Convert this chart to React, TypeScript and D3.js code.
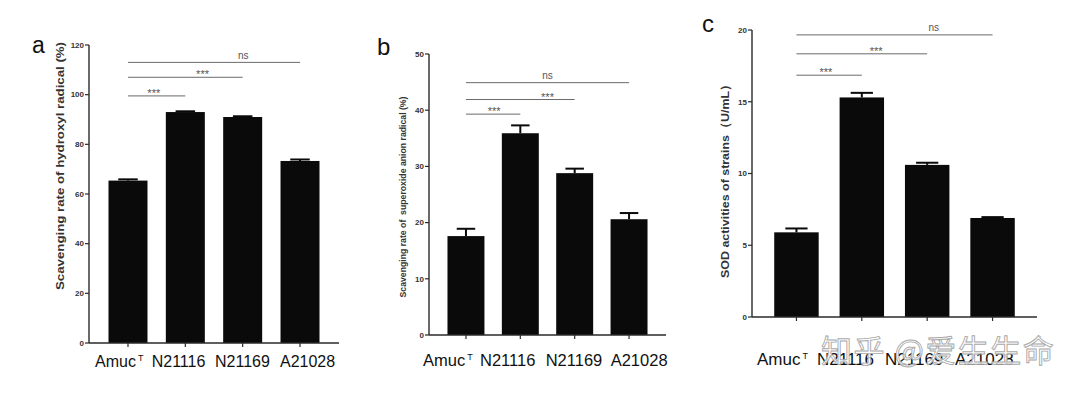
import React from "react";
import * as d3 from "d3";

const categories = ["Amuc", "N21116", "N21169", "A21028"];

const hydroxylMeans = [65.4, 93.0, 91.0, 73.3];
const hydroxylErrors = [0.5, 0.3, 0.3, 0.6];
const hydroxylTicks = [0, 20, 40, 60, 80, 100, 120];

const superoxideMeans = [17.6, 35.9, 28.8, 20.6];
const superoxideErrors = [1.3, 1.4, 0.8, 1.1];
const superoxideTicks = [0, 10, 20, 30, 40, 50];

const sodMeans = [5.9, 15.3, 10.6, 6.9];
const sodErrors = [0.27, 0.32, 0.15, 0.06];
const sodTicks = [0, 5, 10, 15, 20];

// significance comparisons: [from category index, to category index, y value, label]
const hydroxylSig: [number, number, number, string][] = [
  [0, 1, 99.5, "***"],
  [0, 2, 107, "***"],
  [0, 3, 113, "ns"],
];
const superoxideSig: [number, number, number, string][] = [
  [0, 1, 39.3, "***"],
  [0, 2, 41.9, "***"],
  [0, 3, 44.9, "ns"],
];
const sodSig: [number, number, number, string][] = [
  [0, 1, 16.85, "***"],
  [0, 2, 18.34, "***"],
  [0, 3, 19.66, "ns"],
];

const FONT = "'Liberation Sans', Arial, Helvetica, sans-serif";
const AXIS = "#2a2a2a";
const SIG = "#6a6a6a";

type PanelProps = {
  letter: string;
  letterPos: [number, number, number];
  x0: number;
  x1: number;
  yTop: number;
  yBottom: number;
  ticks: number[];
  means: number[];
  errors: number[];
  sig: [number, number, number, string][];
  sigTextFrac: number[];
  yLabel: string;
  yLabelX: number;
  yLabelY: number;
  yLabelSize: number;
  yLabelWeight: string | number;
  yLabelLength: number;
  xLabelStarts: number[];
  xLabelY: number;
  xLabelSize: number;
};

function Panel(p: PanelProps) {
  const x = d3
    .scaleBand<string>()
    .domain(categories)
    .range([p.x0, p.x1])
    .paddingInner(0.32)
    .paddingOuter(0.34);
  const y = d3
    .scaleLinear()
    .domain([0, p.ticks[p.ticks.length - 1]])
    .range([p.yBottom, p.yTop]);
  const bw = x.bandwidth();
  const cx = (c: string) => (x(c) as number) + bw / 2;

  return (
    <g>
      <text
        x={p.letterPos[0]}
        y={p.letterPos[1]}
        fontSize={p.letterPos[2]}
        fontFamily={FONT}
        fill="#111"
      >
        {p.letter}
      </text>
      {/* bars */}
      {categories.map((c, i) => (
        <rect
          key={c}
          x={x(c)}
          y={y(p.means[i])}
          width={bw}
          height={p.yBottom - y(p.means[i])}
          fill="#0a0a0a"
        />
      ))}
      {/* error bars */}
      {categories.map((c, i) => (
        <g key={"e" + c} stroke="#0a0a0a" strokeWidth={2}>
          <line x1={cx(c)} x2={cx(c)} y1={y(p.means[i])} y2={y(p.means[i] + p.errors[i])} />
          <line
            x1={cx(c) - bw / 4}
            x2={cx(c) + bw / 4}
            y1={y(p.means[i] + p.errors[i])}
            y2={y(p.means[i] + p.errors[i])}
          />
        </g>
      ))}
      {/* y axis */}
      <line x1={p.x0} x2={p.x0} y1={p.yTop} y2={p.yBottom} stroke={AXIS} strokeWidth={1.4} />
      {p.ticks.map((t) => (
        <g key={"t" + t}>
          <line x1={p.x0 - 4} x2={p.x0} y1={y(t)} y2={y(t)} stroke={AXIS} strokeWidth={1.2} />
          <text
            x={p.x0 - 5}
            y={y(t)}
            dy="0.35em"
            textAnchor="end"
            fontSize={8}
            fontWeight="bold"
            fontFamily={FONT}
            fill="#333"
          >
            {t}
          </text>
        </g>
      ))}
      {/* x axis */}
      <line x1={p.x0} x2={p.x1} y1={p.yBottom} y2={p.yBottom} stroke={AXIS} strokeWidth={1.4} />
      {categories.map((c) => (
        <line key={"xt" + c} x1={cx(c)} x2={cx(c)} y1={p.yBottom} y2={p.yBottom + 4} stroke={AXIS} strokeWidth={1.2} />
      ))}
      {/* significance */}
      {p.sig.map(([a, b, v, lab], k) => {
        const xa = cx(categories[a]);
        const xb = cx(categories[b]);
        const tx = xa + (xb - xa) * p.sigTextFrac[k];
        return (
          <g key={"s" + k}>
            <line x1={xa} x2={xb} y1={y(v)} y2={y(v)} stroke={SIG} strokeWidth={1} />
            <text
              x={tx}
              y={lab === "ns" ? y(v) - 3.5 : y(v) + 1}
              textAnchor="middle"
              fontSize={lab === "ns" ? 10 : 11}
              fontFamily={FONT}
              fill="#555"
            >
              {lab}
            </text>
          </g>
        );
      })}
      {/* y label */}
      <text
        transform={`translate(${p.yLabelX},${p.yLabelY}) rotate(-90)`}
        textAnchor="middle"
        fontSize={p.yLabelSize}
        fontWeight={p.yLabelWeight}
        fontFamily={FONT}
        fill="#333"
        textLength={p.yLabelLength}
        lengthAdjust="spacingAndGlyphs"
        style={{ whiteSpace: "pre" }}
      >
        {p.yLabel}
      </text>
      {/* x labels */}
      {categories.map((c, i) => (
        <text
          key={"xl" + c}
          x={p.xLabelStarts[i]}
          y={p.xLabelY}
          fontSize={p.xLabelSize}
          fontFamily={FONT}
          fill="#111"
        >
          {c}
          {i === 0 ? (
            <tspan fontSize={9} dx={2} dy={-6}>T</tspan>
          ) : null}
        </text>
      ))}
    </g>
  );
}

export default function App() {
  return (
    <svg
      width={1080}
      height={396}
      style={{ position: "absolute", left: 0, top: 0, background: "#fff" }}
    >
      <rect width={1080} height={396} fill="#fff" />
      <Panel
        letter="a"
        letterPos={[32, 53, 23]}
        x0={89}
        x1={339}
        yTop={45}
        yBottom={343}
        ticks={hydroxylTicks}
        means={hydroxylMeans}
        errors={hydroxylErrors}
        sig={hydroxylSig}
        sigTextFrac={[0.45, 0.65, 0.67]}
        yLabel="Scavenging rate of hydroxyl radical (%)"
        yLabelX={64}
        yLabelY={166}
        yLabelSize={11.5}
        yLabelWeight="bold"
        yLabelLength={248}
        xLabelStarts={[95, 151.7, 215, 280]}
        xLabelY={367}
        xLabelSize={16}
      />
      <Panel
        letter="b"
        letterPos={[377, 55, 24]}
        x0={429}
        x1={666}
        yTop={54}
        yBottom={335}
        ticks={superoxideTicks}
        means={superoxideMeans}
        errors={superoxideErrors}
        sig={superoxideSig}
        sigTextFrac={[0.52, 0.75, 0.5]}
        yLabel="Scavenging rate of  superoxide anion radical (%)"
        yLabelX={406}
        yLabelY={197}
        yLabelSize={9}
        yLabelWeight={600}
        yLabelLength={201}
        xLabelStarts={[423, 480, 545.7, 610.7]}
        xLabelY={366}
        xLabelSize={16.5}
      />
      <Panel
        letter="c"
        letterPos={[702, 32, 24]}
        x0={752}
        x1={1037}
        yTop={30}
        yBottom={317}
        ticks={sodTicks}
        means={sodMeans}
        errors={sodErrors}
        sig={sodSig}
        sigTextFrac={[0.45, 0.61, 0.7]}
        yLabel="SOD activities of strains（U/mL）"
        yLabelX={729}
        yLabelY={178}
        yLabelSize={11.5}
        yLabelWeight="bold"
        yLabelLength={200}
        xLabelStarts={[757, 817, 885, 955]}
        xLabelY={365}
        xLabelSize={17}
      />
      {/* watermark */}
      <text
        x={821}
        y={362}
        fontSize={31}
        fontFamily="'Noto Sans CJK SC', sans-serif"
        fill="#fff"
        fillOpacity={0.8}
        stroke="#a8a8a8"
        strokeWidth={0.9}
        letterSpacing={1.5}
      >
        知乎 @爱生生命
      </text>
    </svg>
  );
}
